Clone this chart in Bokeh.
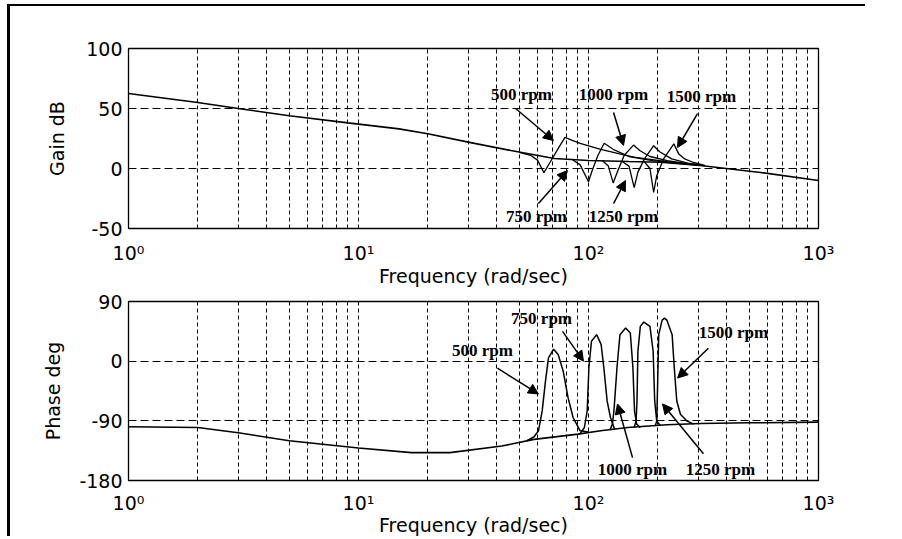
from bokeh.plotting import figure
from bokeh.layouts import column
from bokeh.models import FixedTicker, Arrow, NormalHead, Range1d, ColumnDataSource
from bokeh.embed import file_html
from bokeh.resources import INLINE
from bokeh.core.properties import value

# ---------------- data ----------------
x_ticks = [1, 10, 100, 1000]
x_tick_labels = ["10\u2070", "10\u00b9", "10\u00b2", "10\u00b3"]
gain_ticks = [-50, 0, 50, 100]
gain_tick_labels = ["-50", "0", "50", "100"]
phase_ticks = [-180, -90, 0, 90]
phase_tick_labels = ["-180", "-90", "0", "90"]

# Gain (dB) - common curve
gain_base_w = [1, 2, 3, 5, 9, 15, 20, 30, 46, 71, 100, 150, 206, 307, 560, 1000]
gain_base_db = [62.5, 55, 50, 44, 38, 33, 29, 22, 15, 8.3, 6.7, 5.8, 5.2, 2.5, -3.3, -10]

# Gain (dB) - resonance sections per speed
gain_500_w = [50, 56, 60, 64, 68, 74, 79, 85, 92, 113, 157, 220, 280, 307]
gain_500_db = [13.5, 11, 7, -3.5, 5, 17, 26, 23.5, 21, 16, 9.5, 5.8, 3.8, 2.5]
gain_750_w = [85, 92, 100, 104, 110, 117, 128, 150, 190, 240, 300]
gain_750_db = [7.5, 3, -11, -1, 11, 21, 16, 10, 6.5, 4.5, 2.7]
gain_1000_w = [115, 122, 128, 134, 143, 157, 167, 185, 220, 280]
gain_1000_db = [6.4, 2, -12, -2, 11, 19.5, 15, 10, 6.5, 3.5]
gain_1250_w = [140, 150, 158, 164, 175, 192, 204, 230, 270, 320]
gain_1250_db = [5.8, 2, -16, -3, 8, 19, 14, 8, 4.5, 2.2]
gain_1500_w = [175, 185, 192, 198, 212, 235, 247, 262, 286, 320]
gain_1500_db = [5.5, 0, -20, -6, 8, 20.5, 12, 8, 5, 2.5]

# Phase (deg) - common curve
phase_base_w = [1, 2, 3, 5, 10, 17, 25, 42, 58, 90, 113, 148, 219, 307, 500, 1000]
phase_base_deg = [-99, -100, -108, -120, -131, -138, -138, -128, -118, -110, -105, -100, -96, -94, -93, -92]

# Phase (deg) - resonance sections per speed
phase_500_w = [54, 58, 60.6, 62.9, 65, 67, 70.5, 73.8, 77.6, 81.5, 85.7, 92, 100]
phase_500_deg = [-120, -114, -105, -75, -30, 5, 18, 10, -15, -55, -85, -105, -107]
phase_750_w = [92, 96, 98.7, 100.4, 103, 108.5, 113.5, 116.6, 120.5, 124.6, 130]
phase_750_deg = [-109, -100, -75, -10, 30, 40, 25, -10, -60, -85, -103]
phase_1000_w = [124, 127, 129, 133, 137, 145, 152, 156, 158.5, 162, 168]
phase_1000_deg = [-104, -95, -75, -10, 40, 50, 42.5, -10, -75, -95, -100]
phase_1250_w = [158, 161, 162.5, 164, 168, 174, 185, 191, 194, 198, 205]
phase_1250_deg = [-100, -90, -60, 15, 52.5, 59, 52.5, 15, -60, -90, -97]
phase_1500_w = [195, 198, 199, 202, 209, 214, 219, 231, 236, 242, 251, 267, 287]
phase_1500_deg = [-98, -90, -60, 40, 62, 65, 62, 40, -10, -60, -80, -90, -95]

# annotations
gain_label_text = ["500 rpm", "1000 rpm", "1500 rpm", "750 rpm", "1250 rpm"]
gain_label_w = [51.1, 128.5, 309.9, 59.4, 142]
gain_label_db = [61.7, 61.7, 60, -40, -40]
gain_arrow_w0 = [48.2, 128.5, 297.8, 60.6, 128.5]
gain_arrow_db0 = [50, 46.7, 45.8, -29.2, -29.2]
gain_arrow_w1 = [70.4, 142, 243.8, 81, 144.8]
gain_arrow_db1 = [23.3, 19.2, 17.5, -1.7, -10]

phase_label_text = ["750 rpm", "500 rpm", "1500 rpm", "1000 rpm", "1250 rpm"]
phase_label_w = [62.5, 34.6, 427, 155.4, 375]
phase_label_deg = [64.5, 16.5, 43.5, -163.5, -163.5]
phase_arrow_w0 = [77.1, 40.2, 332, 155.4, 316]
phase_arrow_deg0 = [45, -10.5, 19.5, -145.5, -139.5]
phase_arrow_w1 = [95.1, 60.6, 243.8, 133.7, 209.8]
phase_arrow_deg1 = [0, -49.5, -25.5, -64.5, -64.5]

# ---------------- styling helpers ----------------
FONT = "DejaVu Sans"
minor_ticks = [m * d for d in x_ticks[:-1] for m in range(2, 10)]


def make_fig(y0, y1, yticks, ylabels, ylab, fh, bt, bb, ylab_standoff, xlab_standoff, xtick_standoff):
    p = figure(x_axis_type="log", x_range=Range1d(1, 1000), y_range=Range1d(y0, y1),
               frame_width=690, frame_height=fh,
               min_border_left=118, min_border_right=50, min_border_top=bt, min_border_bottom=bb,
               output_backend="svg", toolbar_location=None)
    p.outline_line_color = "black"
    p.outline_line_width = 1.3
    p.background_fill_color = "white"
    p.border_fill_color = "white"

    p.xaxis.ticker = FixedTicker(ticks=x_ticks, minor_ticks=minor_ticks)
    p.xaxis.major_label_overrides = {t: l for t, l in zip(x_ticks, x_tick_labels)}
    p.yaxis.ticker = FixedTicker(ticks=yticks)
    p.yaxis.major_label_overrides = {t: l for t, l in zip(yticks, ylabels)}

    for ax in (p.xaxis[0], p.yaxis[0]):
        ax.axis_line_color = None
        ax.major_tick_line_color = None
        ax.minor_tick_line_color = None
        ax.major_tick_out = 0
        ax.major_tick_in = 0
        ax.major_label_text_font = FONT
        ax.major_label_text_font_size = "19px"
        ax.major_label_text_color = "black"
        ax.axis_label_text_font = FONT
        ax.axis_label_text_font_size = "19px"
        ax.axis_label_text_font_style = "normal"
        ax.axis_label_text_color = "black"

    p.xaxis.axis_label = "Frequency (rad/sec)"
    p.xaxis.major_label_standoff = xtick_standoff
    p.xaxis.axis_label_standoff = xlab_standoff
    p.yaxis.axis_label = ylab
    p.yaxis.major_label_standoff = 6
    p.yaxis.axis_label_standoff = ylab_standoff

    p.xgrid.grid_line_color = "black"
    p.xgrid.grid_line_dash = "4 3"
    p.xgrid.grid_line_width = 1
    p.xgrid.minor_grid_line_color = "black"
    p.xgrid.minor_grid_line_dash = "4 3"
    p.xgrid.minor_grid_line_width = 1
    p.ygrid.grid_line_color = "black"
    p.ygrid.grid_line_dash = "8 4"
    p.ygrid.grid_line_width = 1
    return p


def add_arrows(p, w0, v0, w1, v1):
    src = ColumnDataSource(dict(x0=w0, y0=v0, x1=w1, y1=v1))
    p.add_layout(Arrow(source=src, x_start="x0", y_start="y0", x_end="x1", y_end="y1",
                       line_color="black", line_width=1.5,
                       end=NormalHead(size=10, fill_color="black", line_color="black", line_width=1)))


def add_labels(p, w, v, txt):
    src = ColumnDataSource(dict(x=w, y=v, t=txt))
    p.text(x="x", y="y", text="t", source=src, text_font=value("Liberation Serif"),
           text_font_style="bold", text_font_size="17px", text_color="black",
           text_align="center", text_baseline="middle")


# ---------------- gain plot ----------------
p1 = make_fig(-50, 100, gain_ticks, gain_tick_labels, "Gain dB", 180, 42, 62, 15, -2, 9)
p1.line(gain_base_w, gain_base_db, line_color="black", line_width=1.6)
for w, v in [(gain_500_w, gain_500_db), (gain_750_w, gain_750_db), (gain_1000_w, gain_1000_db),
             (gain_1250_w, gain_1250_db), (gain_1500_w, gain_1500_db)]:
    p1.line(w, v, line_color="black", line_width=1.3)
add_arrows(p1, gain_arrow_w0, gain_arrow_db0, gain_arrow_w1, gain_arrow_db1)
add_labels(p1, gain_label_w, gain_label_db, gain_label_text)

# ---------------- phase plot ----------------
p2 = make_fig(-180, 90, phase_ticks, phase_tick_labels, "Phase deg", 179, 11, 57, 12, -3, 7)
p2.line(phase_base_w, phase_base_deg, line_color="black", line_width=1.6)
for w, v in [(phase_500_w, phase_500_deg), (phase_750_w, phase_750_deg), (phase_1000_w, phase_1000_deg),
             (phase_1250_w, phase_1250_deg), (phase_1500_w, phase_1500_deg)]:
    p2.line(w, v, line_color="black", line_width=1.5)
add_arrows(p2, phase_arrow_w0, phase_arrow_deg0, phase_arrow_w1, phase_arrow_deg1)
add_labels(p2, phase_label_w, phase_label_deg, phase_label_text)

layout = column(p1, p2, styles={"box-shadow": "-3px -2px 0px 0px black",
                                "margin-left": "10px", "margin-top": "6px"})

open("out.html", "w").write(file_html(layout, INLINE))
